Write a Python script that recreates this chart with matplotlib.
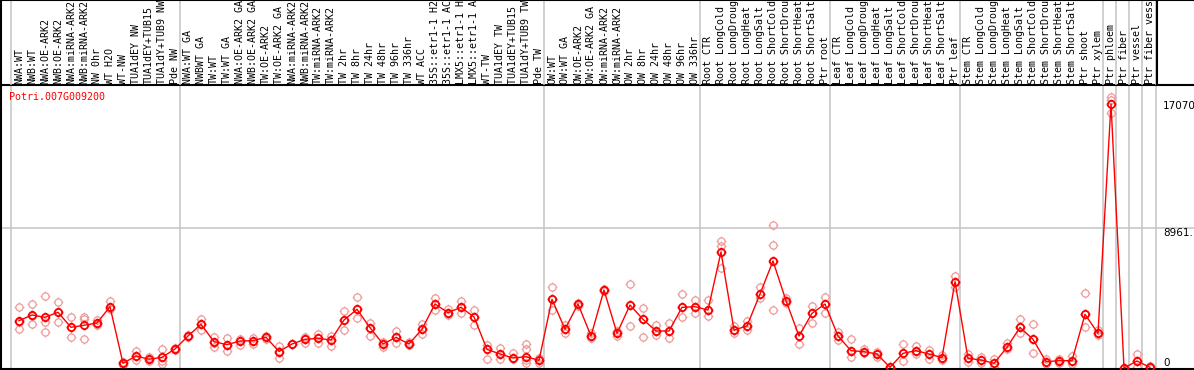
import matplotlib
matplotlib.use('Agg')
import matplotlib.pyplot as plt
from matplotlib.path import Path

# ---------------- data ----------------
title = "Potri.007G009200"

labels = [
    "NWA:WT", "NWB:WT", "NWA:OE-ARK2", "NWB:OE-ARK2", "NWA:miRNA-ARK2", "NWB:miRNA-ARK2",
    "NW 0hr", "WT H2O", "WT-NW", "TUA1dEY NW", "TUA1dEY+TUB15", "TUA1dY+TUB9 NW", "Pde NW",
    "NWA:WT GA", "NWBWT GA", "TW:WT", "TW:WT GA", "NWA:OE-ARK2 GA", "NWB:OE-ARK2 GA",
    "TW:OE-ARK2", "TW:OE-ARK2 GA", "NWA:miRNA-ARK2", "NWB:miRNA-ARK2", "TW:miRNA-ARK2",
    "TW:miRNA-ARK2", "TW 2hr", "TW 8hr", "TW 24hr", "TW 48hr", "TW 96hr", "TW 336hr",
    "WT ACC", "35S::etr1-1 H2O", "35S::etr1-1 ACC", "LMX5::etr1-1 H2O", "LMX5::etr1-1 ACC",
    "WT-TW", "TUA1dEY TW", "TUA1dEY+TUB15 TW", "TUA1dY+TUB9 TW", "Pde TW",
    "OW:WT", "OW:WT GA", "OW:OE-ARK2", "OW:OE-ARK2 GA", "OW:miRNA-ARK2", "OW:miRNA-ARK2",
    "OW 2hr", "OW 8hr", "OW 24hr", "OW 48hr", "OW 96hr", "OW 336hr",
    "Root CTR", "Root LongCold", "Root LongDrought", "Root LongHeat", "Root LongSalt",
    "Root ShortCold", "Root ShortDrought", "Root ShortHeat", "Root ShortSalt", "Ptr root",
    "Leaf CTR", "Leaf LongCold", "Leaf LongDrought", "Leaf LongHeat", "Leaf LongSalt",
    "Leaf ShortCold", "Leaf ShortDrought", "Leaf ShortHeat", "Leaf ShortSalt", "Ptr leaf",
    "Stem CTR", "Stem LongCold", "Stem LongDrought", "Stem LongHeat", "Stem LongSalt",
    "Stem ShortCold", "Stem ShortDrought", "Stem ShortHeat", "Stem ShortSalt",
    "Ptr shoot", "Ptr xylem", "Ptr phloem", "Ptr fiber", "Ptr vessel", "Ptr fiber vessel",
]

means = [
    3027, 3392, 3245, 3565, 2605, 2733, 2880, 3925, 299, 768, 560, 683, 1216,
    2048, 2797, 1685, 1493, 1728, 1749, 1963, 1056, 1536, 1835, 1899, 1792,
    3072, 3755, 2581, 1536, 1963, 1536, 2485, 4096, 3541, 3883, 3264,
    1195, 896, 640, 725, 491,
    4395, 2485, 4096, 2048, 4992, 2219, 4032, 3115, 2368, 2368, 3883, 3925,
    3712, 7424, 2432, 2688, 4736, 6850, 4309, 2048, 3499, 4096,
    2048, 1109, 1045, 896, 43, 939, 1109, 896, 661, 5525,
    619, 512, 299, 1323, 2603, 1835, 405, 469, 469, 3435, 2219,
    16900, 0, 448, 43,
]

replicates = [
    [3885, 2477, 2944], [4096, 2797, 3350], [4608, 2285, 2963], [4205, 2925, 3565],
    [3245, 1965, 2605], [3245, 3136, 1877], [3072, 2797, 2750], [4288, 3755, 3840],
    [384, 300, 192], [1067, 512, 768], [683, 448, 560], [1216, 469, 256, 683],
    [1250, 1180, 1216],
    [2100, 2000, 2048], [3136, 2432, 2797], [2005, 1365, 1600], [1899, 1088, 1493],
    [1835, 1493, 1728], [1899, 1515, 1749], [2070, 1835, 1963], [1408, 640, 1067],
    [1536, 1560, 1510], [2005, 1621, 1835], [2176, 1621, 1899], [2069, 1429, 1792],
    [3669, 2411, 3072], [4523, 3179, 3755], [2859, 2048, 2581], [1323, 1685, 1536],
    [2389, 1579, 1963], [1536, 1685, 1450], [2795, 2176, 2485], [4459, 3712, 4096],
    [3776, 3392, 3541], [4309, 3883, 3500], [3733, 2752, 3264], [1472, 576, 1195],
    [1259, 555, 896], [960, 555, 640], [1536, 1216, 512, 299], [619, 299, 491],
    [5163, 3712, 4395], [2752, 2219, 2485], [4096, 4000, 4180], [2219, 1899, 2048],
    [4992, 4900, 5080], [2400, 2048, 2219], [5376, 2688, 4032], [3819, 1963, 3115],
    [2752, 2112, 2368], [2859, 1899, 2368], [4736, 3285, 3883], [4352, 3499, 3925],
    [4352, 3328, 3712], [8128, 7800, 6400], [2688, 2240, 2432], [3029, 2432, 2688],
    [5205, 4480, 4736], [9152, 7872, 3712], [4459, 4139, 4309], [2539, 1536, 2048],
    [3968, 2859, 3499], [4565, 3541, 4096],
    [2325, 1792, 2048], [1835, 683, 1109], [1190, 960, 1045], [1003, 725, 896],
    [0, 64, 43], [1515, 469, 939], [1408, 896, 1109], [1173, 555, 896],
    [832, 512, 661], [5888, 5163, 5525],
    [875, 384, 619], [725, 299, 512], [555, 85, 299], [1579, 1216, 1323],
    [3136, 2261, 2603], [2795, 939, 1835], [555, 256, 405], [555, 299, 469],
    [789, 256, 469], [4779, 2645, 3435], [2432, 2112, 2219],
    [17350, 17150, 16350], [0, 0, 0], [896, 85, 448], [0, 100, 43],
]

group_starts = [0, 13, 41, 53, 63, 73, 84, 85, 86, 87]
ytick_vals = [17070, 8961, 0]
ytick_labels = ["17070", "8961.", "0"]

# ---------------- layout ----------------
W, H = 1194, 370
fig = plt.figure(figsize=(W / 100, H / 100), dpi=100)
fig.patch.set_facecolor('white')

SP = 13.0      # pixel spacing between samples
X0 = 19.0      # pixel x of first sample
xl = ((1 - X0) / SP, (W - X0) / SP)

ax = fig.add_axes([1 / W, 1 / H, (W - 1) / W, 284 / H])
lax = fig.add_axes([1 / W, 285 / H, (W - 1) / W, 85 / H])

ax.set_xlim(*xl)
ax.set_ylim(-64, 283 * 64)
lax.set_xlim(*xl)
lax.set_ylim(85, 0)

for a in (ax, lax):
    a.set_xticks([])
    a.set_yticks([])
    a.set_facecolor('none')
    for s in a.spines.values():
        s.set_color('black')
        s.set_linewidth(1.5)
ax.spines['right'].set_visible(False)
lax.spines['right'].set_visible(False)
lax.spines['bottom'].set_visible(False)

grey = '#c4c4c4'
vlines = [g - 0.6 for g in group_starts] + [87.45]
for v in vlines:
    ax.axvline(v, color=grey, lw=1.1, zorder=1)
    lax.axvline(v, color=grey, lw=1.1, zorder=1)
lax.plot([(1157 - X0) / SP] * 2, [0, 85], color='black', lw=1.5, zorder=3)

ax.axhline(ytick_vals[1], color=grey, lw=1.1, zorder=1)

# marker: circle with four small ticks
circ = Path.unit_circle()
verts = list(circ.vertices)
codes = list(circ.codes)
for a0, b0 in [((0, 1), (0, 1.35)), ((0, -1), (0, -1.35)),
               ((1, 0), (1.35, 0)), ((-1, 0), (-1.35, 0))]:
    verts += [a0, b0]
    codes += [Path.MOVETO, Path.LINETO]
mk = Path(verts, codes)

xs = list(range(len(means)))
for i, reps in enumerate(replicates):
    ax.plot([i] * len(reps), reps, ls='none', marker=mk, ms=7.0, mfc='none',
            mec='#ef9a9a', mew=0.9, zorder=2)
ax.plot(xs, means, color='red', lw=1.0, zorder=3)
ax.plot(xs, means, ls='none', marker=mk, ms=7.0, mfc='none', mec='red', mew=1.3, zorder=4)

# right-hand value labels
for v, t in zip(ytick_vals, ytick_labels):
    va = 'bottom' if v == 0 else 'top'
    ax.text((1163 - X0) / SP, v, t, ha='left', va=va, fontsize=7.5,
            family='DejaVu Sans', color='black', zorder=5)

# sample labels
for i, lab in enumerate(labels):
    lax.text(i, 84, lab, rotation=90, ha='center', va='bottom', fontsize=7.2,
             family='DejaVu Sans Mono', color='black', clip_on=True)

fig.text(9 / W, 1 - 97 / H, title, ha='left', va='center', fontsize=7.2,
         family='DejaVu Sans Mono', color='red')

fig.savefig('out.png', dpi=100, facecolor='white')
